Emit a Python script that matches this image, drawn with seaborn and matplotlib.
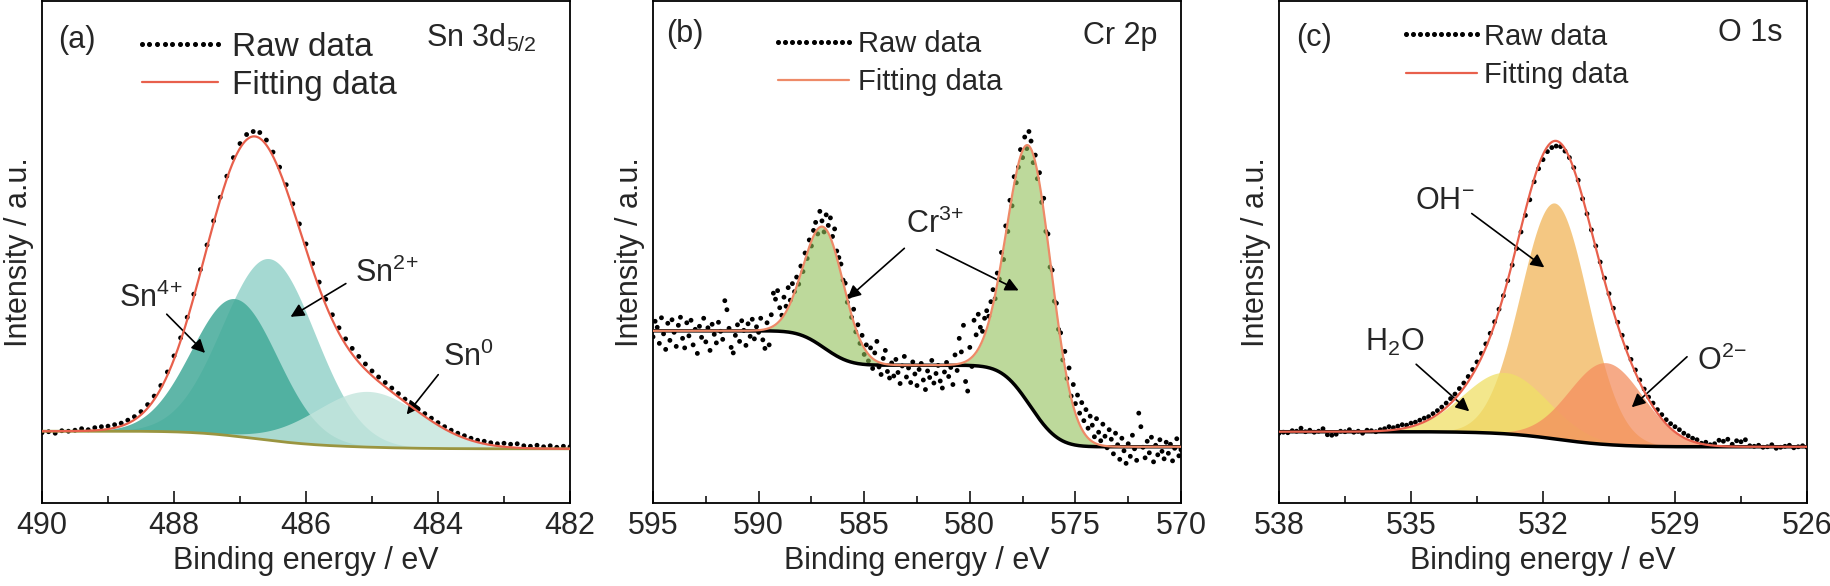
import numpy as np
import matplotlib
matplotlib.use("Agg")
import matplotlib.pyplot as plt
from matplotlib.lines import Line2D
from matplotlib.legend_handler import HandlerLine2D
import seaborn as sns

# ---------------- (a) Sn 3d5/2 ----------------
sn_range = [490.0, 482.0]          # raw data every 0.1 eV
sn_raw = [
    14.0, 14.2, 13.9, 14.4, 14.3, 14.5, 14.8, 14.6, 15.0, 15.2,
    15.3, 15.6, 15.9, 16.5, 17.2, 18.2, 19.6, 21.3, 23.4, 26.1,
    29.3, 32.9, 37.0, 41.6, 46.5, 51.4, 56.2, 60.9, 65.1, 68.8,
    71.6, 73.4, 74.0, 73.8, 72.3, 69.9, 66.9, 63.4, 59.6, 55.6,
    51.6, 47.7, 44.0, 40.6, 37.5, 34.9, 32.7, 30.8, 29.2, 27.7,
    26.3, 25.1, 24.0, 22.9, 21.8, 20.7, 19.7, 18.7, 17.8, 16.9,
    16.0, 15.2, 14.5, 13.9, 13.4, 12.9, 12.5, 12.3, 12.0, 11.8,
    11.9, 11.7, 11.8, 11.4, 11.3, 11.5, 11.2, 11.4, 11.1, 11.3,
    11.2,
]
sn_names = ["Sn$^{2\\!+}$", "Sn$^{4\\!+}$", "Sn$^{0}$"]
sn_center = [486.56, 487.08, 485.06]
sn_height = [36.2, 27.4, 11.1]
sn_sigma = [0.70, 0.65, 0.80]
sn_bg = [14.3, 10.8]               # background at high / low binding energy
sn_ticks = [490, 488, 486, 484, 482]

# ---------------- (b) Cr 2p ----------------
cr_range = [595.0, 570.0]
cr_raw = [
    33.1, 36.2, 35.0, 31.8, 36.9, 33.7, 30.6, 35.8, 32.4, 36.5,
    34.0, 31.2, 35.4, 37.0, 32.8, 30.9, 35.9, 33.3, 36.4, 31.5,
    34.6, 29.8, 35.2, 33.0, 36.8, 32.1, 34.9, 30.4, 35.6, 33.6,
    31.9, 36.0, 34.2, 32.6, 40.3, 38.5, 34.8, 31.0, 29.9, 33.4,
    35.5, 32.2, 36.3, 34.4, 31.4, 35.7, 33.2, 36.6, 32.7, 35.1,
    34.0, 36.8, 32.5, 30.8, 35.9, 31.5, 37.5, 41.8, 40.6, 42.3,
    38.9, 37.4, 41.0, 39.2, 42.9, 40.4, 43.7, 42.1, 45.0, 43.6,
    47.2, 46.1, 49.8, 48.7, 52.4, 51.2, 54.3, 55.9, 53.6, 58.1,
    56.2, 54.0, 57.4, 55.3, 56.8, 53.1, 54.6, 50.2, 48.9, 47.6,
    44.4, 43.8, 40.0, 41.2, 37.0, 38.6, 34.1, 35.5, 31.8, 33.4,
    29.6, 31.5, 28.3, 30.9, 26.8, 29.9, 32.2, 27.1, 25.6, 28.8,
    30.4, 26.2, 24.9, 27.9, 25.3, 28.6, 26.0, 23.8, 27.3, 29.2,
    25.1, 26.9, 24.0, 28.1, 25.7, 23.4, 26.6, 27.8, 24.5, 22.6,
    26.3, 25.0, 28.4, 23.9, 25.8, 27.4, 24.3, 22.9, 26.1, 28.0,
    25.2, 27.0, 23.6, 29.5, 26.4, 32.8, 30.1, 35.4, 24.2, 22.3,
    31.0, 27.2, 36.4, 33.5, 37.6, 35.0, 34.2, 36.8, 38.3, 37.2,
    40.1, 42.5, 40.7, 45.8, 44.6, 49.9, 48.5, 55.2, 54.1, 60.3,
    59.2, 65.0, 63.8, 66.9, 70.4, 68.8, 72.9, 70.6, 74.0, 72.1,
    67.8, 69.3, 64.6, 65.8, 59.9, 60.7, 54.1, 53.6, 47.0, 46.4,
    40.2, 39.8, 34.6, 33.9, 28.5, 30.2, 24.8, 26.9, 21.3, 23.6,
    19.8, 21.5, 17.9, 20.0, 16.4, 18.6, 14.9, 17.3, 15.5, 13.2,
    16.8, 14.1, 12.4, 15.7, 13.3, 11.0, 14.6, 12.7, 9.8, 13.9,
    11.6, 8.7, 12.9, 10.4, 7.9, 11.8, 9.3, 13.5, 10.8, 8.5,
    17.9, 15.2, 11.1, 9.0, 12.3, 10.0, 13.1, 8.2, 11.5, 9.6,
    12.6, 10.3, 8.8, 12.1, 9.9, 11.7, 8.4, 10.9, 12.8, 9.4,
    10.6,
]
cr_center = [586.9, 577.15]
cr_height = [24.0, 51.5]
cr_sigma = [0.95, 1.05]
cr_bg = [34.3, 11.2]
cr_ticks = [595, 590, 585, 580, 575, 570]

# ---------------- (c) O 1s ----------------
o_range = [538.0, 526.0]
o_raw = [
    13.9, 14.1, 14.0, 14.4, 14.3, 14.9, 14.2, 14.5, 14.1, 14.3,
    14.8, 13.6, 13.5, 13.7, 14.3, 14.2, 14.6, 14.1, 14.3, 13.9,
    14.5, 14.4, 14.2, 14.6, 14.8, 15.2, 15.0, 15.3, 15.6, 15.5,
    15.9, 16.1, 16.5, 16.9, 17.2, 17.8, 18.4, 19.1, 19.9, 20.8,
    21.7, 22.8, 23.9, 25.2, 26.6, 28.1, 29.8, 31.7, 33.8, 36.1,
    38.6, 41.3, 44.3, 47.4, 50.7, 54.0, 57.3, 60.4, 64.0, 66.6,
    68.4, 70.0, 70.8, 71.1, 71.0, 70.1, 68.8, 66.8, 64.3, 60.6,
    57.6, 54.4, 51.2, 48.0, 44.8, 41.7, 38.8, 36.0, 33.4, 30.9,
    28.6, 26.5, 24.5, 22.7, 21.1, 19.9, 18.6, 17.6, 16.6, 15.8,
    15.2, 14.6, 13.9, 13.4, 12.9, 12.6, 11.9, 12.1, 11.6, 11.8,
    12.5, 12.3, 12.7, 11.7, 12.4, 12.2, 12.6, 11.4, 11.3, 11.5,
    11.1, 11.2, 11.6, 10.9, 11.1, 11.3, 11.5, 11.0, 11.2, 11.4,
    11.1,
]
o_names = ["OH$^{-}$", "H$_2$O", "O$^{2\\!-}$"]
o_center = [531.74, 532.86, 530.57]
o_height = [47.0, 12.2, 16.3]
o_sigma = [0.765, 0.96, 0.84]
o_bg = [14.2, 11.2]
o_ticks = [538, 535, 532, 529, 526]


def fit_curves(xr, center, height, sigma, bg_levels):
    x = np.linspace(xr[0], xr[1], 1201)
    comps = np.array([h * np.exp(-(x - c) ** 2 / (2 * s ** 2))
                      for c, h, s in zip(center, height, sigma)])
    # Shirley-like background: step follows peak area from the low BE side
    area = np.cumsum(comps.sum(axis=0)[::-1])[::-1]
    bg = bg_levels[1] + (bg_levels[0] - bg_levels[1]) * area / area[0]
    return x, comps, bg


sns.set_style("ticks")
plt.rcParams["font.family"] = ["Liberation Sans", "DejaVu Sans"]
plt.rcParams["mathtext.fontset"] = "custom"
plt.rcParams["mathtext.rm"] = "Liberation Sans"
plt.rcParams["mathtext.it"] = "Liberation Sans:italic"
plt.rcParams["mathtext.default"] = "regular"

fig = plt.figure(figsize=(18.31, 5.86), dpi=100)
lefts = [42 / 1831, 653 / 1831, 1279 / 1831]
axes = [fig.add_axes([l, 83 / 586, 528 / 1831, 502 / 586]) for l in lefts]

panels = [
    dict(xr=sn_range, raw=sn_raw, center=sn_center, height=sn_height, sigma=sn_sigma,
         bg=sn_bg, ticks=sn_ticks, fills=[("#95d3ca", 0.85), ("#43aa99", 0.85), ("#c3e5dd", 0.8)],
         bg_color="#9a9540", bg_lw=2.0, fit_color="#e8604c",
         tag="(a)", tag_pos=(0.066, 0.922), title="Sn 3d$_{5/2}$", title_pos=(0.936, 0.927),
         leg_font=24, leg_pos=(0.189, 0.938), leg_hl=2.28, leg_tp=0.42, leg_ls=0.2),
    dict(xr=cr_range, raw=cr_raw, center=cr_center, height=cr_height, sigma=cr_sigma,
         bg=cr_bg, ticks=cr_ticks, fills=[("#91c058", 0.6), ("#91c058", 0.6)],
         bg_color="black", bg_lw=2.5, fit_color="#ee8a68",
         tag="(b)", tag_pos=(0.061, 0.935), title="Cr 2p", title_pos=(0.955, 0.931),
         leg_font=21, leg_pos=(0.237, 0.942), leg_hl=2.43, leg_tp=0.31, leg_ls=0.33),
    dict(xr=o_range, raw=o_raw, center=o_center, height=o_height, sigma=o_sigma,
         bg=o_bg, ticks=o_ticks, fills=[("#f2ba63", 0.8), ("#efe066", 0.75), ("#f48e5f", 0.75)],
         bg_color="black", bg_lw=2.5, fit_color="#e8604c",
         tag="(c)", tag_pos=(0.066, 0.926), title="O 1s", title_pos=(0.953, 0.937),
         leg_font=21, leg_pos=(0.24, 0.957), leg_hl=2.43, leg_tp=0.27, leg_ls=0.36),
]

for ax, p in zip(axes, panels):
    raw_x = np.linspace(p["xr"][0], p["xr"][1], len(p["raw"]))
    x, comps, bg = fit_curves(p["xr"], p["center"], p["height"], p["sigma"], p["bg"])

    sns.scatterplot(x=raw_x, y=p["raw"], color="black", s=12, edgecolor="none",
                    linewidth=0, legend=False, ax=ax, zorder=1)
    for comp, (col, alpha) in zip(comps, p["fills"]):
        ax.fill_between(x, bg, bg + comp, color=col, alpha=alpha, lw=0, zorder=2)
    sns.lineplot(x=x, y=bg, color=p["bg_color"], lw=p["bg_lw"], sort=False, ax=ax, zorder=3)
    sns.lineplot(x=x, y=bg + comps.sum(axis=0), color=p["fit_color"], lw=1.6,
                 sort=False, ax=ax, zorder=4)

    ax.set_xlim(p["xr"][0], p["xr"][1])
    ax.set_ylim(0, 100)
    ax.set_yticks([])
    ticks = np.array(p["ticks"], dtype=float)
    ax.set_xticks(ticks)
    ax.set_xticks((ticks[:-1] + ticks[1:]) / 2, minor=True)
    ax.set_xticklabels([str(t) for t in p["ticks"]])
    ax.tick_params(axis="x", which="major", direction="in", length=9, width=1.3,
                   labelsize=22, pad=5.5, top=False)
    ax.tick_params(axis="x", which="minor", direction="in", length=5, width=1.3, top=False)
    for sp in ax.spines.values():
        sp.set_visible(True)
        sp.set_linewidth(1.3)
        sp.set_color("black")
    ax.set_xlabel("Binding energy / eV", fontsize=22, labelpad=4)
    ax.set_ylabel("Intensity / a.u.", fontsize=22, labelpad=6)

    ax.text(*p["tag_pos"], p["tag"], transform=ax.transAxes, fontsize=22,
            ha="center", va="center")
    ax.text(*p["title_pos"], p["title"], transform=ax.transAxes, fontsize=22,
            ha="right", va="center")

    raw_handle = Line2D([], [], ls="none", marker="o", ms=2.6, color="black")
    fit_handle = Line2D([], [], color=p["fit_color"], lw=1.6)
    ax.legend([raw_handle, fit_handle], ["Raw data", "Fitting data"],
              handler_map={raw_handle: HandlerLine2D(marker_pad=0, numpoints=11)},
              loc="upper left", bbox_to_anchor=p["leg_pos"], frameon=False,
              borderaxespad=0, borderpad=0, fontsize=p["leg_font"],
              handlelength=p["leg_hl"], handletextpad=p["leg_tp"],
              labelspacing=p["leg_ls"])

arrow = dict(arrowstyle="-|>", color="black", lw=1.2, mutation_scale=20)
ax_a, ax_b, ax_c = axes

# (a) labels
ax_a.text(488.84, 39.1, sn_names[1], fontsize=22, ha="left", va="baseline")
ax_a.annotate("", xy=(487.50, 29.5), xytext=(488.14, 38.0), arrowprops=arrow)
ax_a.text(485.26, 44.1, sn_names[0], fontsize=22, ha="left", va="baseline")
ax_a.annotate("", xy=(486.27, 36.8), xytext=(485.36, 44.0), arrowprops=arrow)
ax_a.text(483.92, 27.2, sn_names[2], fontsize=22, ha="left", va="baseline")
ax_a.annotate("", xy=(484.5, 17.2), xytext=(483.97, 26.0), arrowprops=arrow)

# (b) labels
ax_b.text(583.0, 53.7, "Cr$^{3\\!+}$", fontsize=22, ha="left", va="baseline")
ax_b.annotate("", xy=(585.9, 40.3), xytext=(583.0, 51.1), arrowprops=arrow)
ax_b.annotate("", xy=(577.57, 42.1), xytext=(581.69, 50.7), arrowprops=arrow)

# (c) labels
ax_c.text(534.91, 58.5, o_names[0], fontsize=22, ha="left", va="baseline")
ax_c.annotate("", xy=(531.92, 46.6), xytext=(533.67, 58.0), arrowprops=arrow)
ax_c.text(536.04, 30.2, o_names[1], fontsize=22, ha="left", va="baseline")
ax_c.annotate("", xy=(533.63, 17.9), xytext=(534.93, 28.0), arrowprops=arrow)
ax_c.text(528.5, 26.5, o_names[2], fontsize=22, ha="left", va="baseline")
ax_c.annotate("", xy=(530.03, 18.7), xytext=(528.68, 29.5), arrowprops=arrow)

fig.savefig("out.png", dpi=100)
